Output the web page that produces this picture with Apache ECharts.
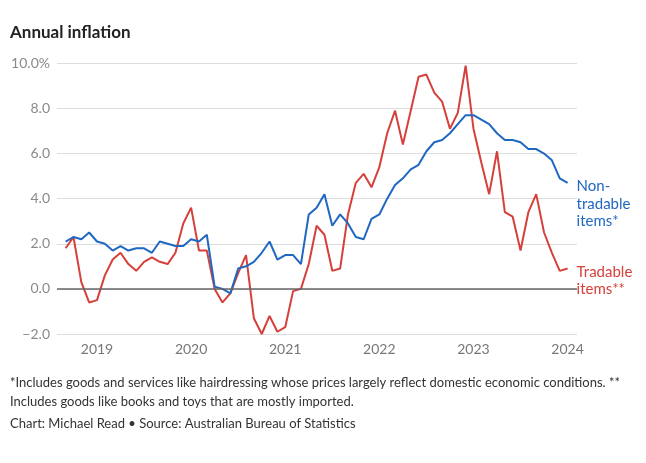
<!DOCTYPE html>
<html><head><meta charset="utf-8">
<script src="https://cdn.jsdelivr.net/npm/echarts@6/dist/echarts.min.js"></script>
<style>html,body{margin:0;padding:0;background:#fff}#c{width:646px;height:463px}</style>
</head><body><div id="c"></div>
<script>
// Monthly observations, Sep 2018 – Jan 2024
const months = [];
for (let y = 2018, m = 9; y < 2024 || (y === 2024 && m <= 1); ) {
  months.push(y + '-' + String(m).padStart(2, '0'));
  m++; if (m > 12) { m = 1; y++; }
}
const nonTradable = [
  2.1, 2.3, 2.2, 2.5,
  2.1, 2.0, 1.7, 1.9, 1.7, 1.8, 1.8, 1.6, 2.1, 2.0, 1.9, 1.9,
  2.2, 2.1, 2.4, 0.1, 0.0, -0.2, 0.9, 1.0, 1.2, 1.6, 2.1, 1.3,
  1.5, 1.5, 1.1, 3.3, 3.6, 4.2, 2.8, 3.3, 2.9, 2.3, 2.2, 3.1,
  3.3, 4.0, 4.6, 4.9, 5.3, 5.5, 6.1, 6.5, 6.6, 6.9, 7.3, 7.7,
  7.7, 7.5, 7.3, 6.9, 6.6, 6.6, 6.5, 6.2, 6.2, 6.0, 5.7, 4.9,
  4.7
];
const tradable = [
  1.8, 2.3, 0.3, -0.6,
  -0.5, 0.6, 1.3, 1.6, 1.1, 0.8, 1.2, 1.4, 1.2, 1.1, 1.6, 2.9,
  3.6, 1.7, 1.7, 0.0, -0.6, -0.2, 0.7, 1.5, -1.3, -2.0, -1.2, -1.9,
  -1.7, -0.1, 0.0, 1.1, 2.8, 2.4, 0.8, 0.9, 3.3, 4.7, 5.1, 4.5,
  5.4, 6.9, 7.9, 6.4, 7.9, 9.4, 9.5, 8.7, 8.3, 7.1, 7.8, 9.9,
  7.1, 5.6, 4.2, 6.1, 3.4, 3.2, 1.7, 3.4, 4.2, 2.5, 1.6, 0.8,
  0.9
];
const yearLabels = ['2019', '2020', '2021', '2022', '2023', '2024'];

// month string -> months since Jan 2019
const toX = s => { const [y, m] = s.split('-').map(Number); return (y - 2019) * 12 + (m - 1); };
const yearX = yearLabels.map(y => toX(y + '-01'));
const pair = arr => months.map((mo, i) => [toX(mo), arr[i]]);

const FONT = 'Lato';
const BLUE = '#1f68c1', RED = '#d5403b';

const chart = echarts.init(document.getElementById('c'), null, { renderer: 'canvas' });
chart.setOption({
  animation: false,
  textStyle: { fontFamily: FONT },
  title: [
    { text: 'Annual inflation', left: 10, top: 24, padding: 0, textStyle: { fontFamily: FONT, fontSize: 17, fontWeight: 'bold', color: '#222' } },
    { text: '*Includes goods and services like hairdressing whose prices largely reflect domestic economic conditions. **\nIncludes goods like books and toys that are mostly imported.',
      left: 10, top: 373, padding: 0, textStyle: { fontFamily: FONT, fontSize: 13, fontWeight: 'normal', color: '#333', lineHeight: 19 } },
    { text: 'Chart: Michael Read \u2022 Source: Australian Bureau of Statistics',
      left: 10, top: 414, padding: 0, textStyle: { fontFamily: FONT, fontSize: 13, fontWeight: 'normal', color: '#333', lineHeight: 19 } }
  ],
  grid: { left: 57, right: 69, top: 63.3, bottom: 129, containLabel: false },
  xAxis: {
    type: 'value', min: -5.1, max: 61.2,
    axisLine: { show: false }, axisTick: { show: false }, splitLine: { show: false },
    axisLabel: {
      customValues: yearX,
      formatter: v => String(2019 + Math.round(v / 12)),
      color: '#777', fontSize: 14, fontFamily: FONT, margin: 8
    }
  },
  yAxis: {
    type: 'value', min: -2, max: 10, interval: 2,
    axisLine: { show: false }, axisTick: { show: false },
    splitLine: { lineStyle: { color: '#dddddd', width: 1 } },
    axisLabel: {
      color: '#8a8a8a', fontSize: 14, fontFamily: FONT, margin: 7,
      formatter: v => (v === 10 ? '10.0%' : (v < 0 ? '\u2212' + Math.abs(v).toFixed(1) : v.toFixed(1)))
    }
  },
  series: [
    {
      name: 'Non-tradable items*', type: 'line', data: pair(nonTradable),
      symbol: 'none', lineStyle: { color: BLUE, width: 2 }, itemStyle: { color: BLUE },
      endLabel: { show: true, formatter: 'Non-\ntradable\nitems*', color: BLUE, fontSize: 15, fontFamily: FONT, lineHeight: 17.5, distance: 9, offset: [0, 21] },
      z: 3
    },
    {
      name: 'Tradable items**', type: 'line', data: pair(tradable),
      symbol: 'none', lineStyle: { color: RED, width: 2 }, itemStyle: { color: RED },
      endLabel: { show: true, formatter: 'Tradable\nitems**', color: RED, fontSize: 15, fontFamily: FONT, lineHeight: 17, distance: 9, offset: [0, 12] },
      markLine: { silent: true, symbol: 'none', label: { show: false }, lineStyle: { color: '#666', width: 1.5, type: 'solid' }, data: [{ yAxis: 0 }] },
      z: 2
    }
  ]
});
</script>
</body></html>
